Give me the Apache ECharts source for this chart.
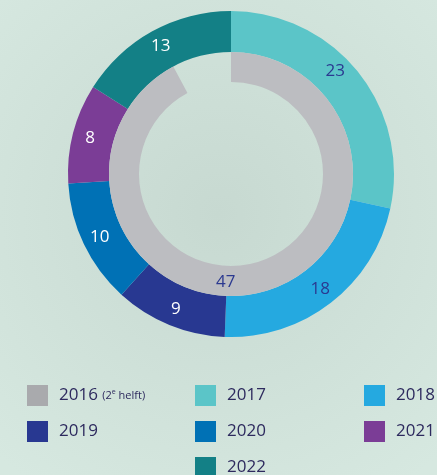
<!DOCTYPE html>
<html>
<head>
<meta charset="utf-8">
<script src="https://cdn.jsdelivr.net/npm/echarts@6/dist/echarts.min.js"></script>
<style>
  html, body { margin: 0; padding: 0; }
  #chart { width: 437px; height: 475px; }
</style>
</head>
<body>
<div id="chart"></div>
<script>
// outer ring: years and counts
var years = ['2017', '2018', '2019', '2020', '2021', '2022'];
var counts = [23, 18, 9, 10, 8, 13];
// inner ring: 2016 (2e helft) plus the empty gap at the top
var innerName = '2016';
var innerValue = 47;
var innerGap = 4;

var colors = {
  '2016': '#bcbdc1',
  '2017': '#5bc5c8',
  '2018': '#25a9e0',
  '2019': '#283891',
  '2020': '#0071b5',
  '2021': '#7b3d96',
  '2022': '#138086'
};
var darkLabel = '#2b3990';
var darkLabelYears = ['2017', '2018'];

var myChart = echarts.init(document.getElementById('chart'));

var outerData = years.map(function (y, i) {
  return {
    name: y,
    value: counts[i],
    itemStyle: { color: colors[y] },
    label: { color: darkLabelYears.indexOf(y) >= 0 ? darkLabel : '#ffffff' }
  };
});

var legendText = {
  color: '#2d2a5e',
  fontFamily: 'Open Sans',
  fontSize: 17,
  padding: [0, 0, 0, 6],
  rich: {
    small: { fontSize: 11, color: '#2d2a5e', fontFamily: 'Open Sans' },
    sup: { fontSize: 7, color: '#2d2a5e', fontFamily: 'Open Sans', padding: [0, 0, 7, 0] }
  }
};

function legendFmt(name) {
  if (name === innerName) {
    return name + ' {small|(2}{sup|e}{small| helft)}';
  }
  return name;
}

var legendBase = {
  orient: 'vertical',
  icon: 'rect',
  itemWidth: 21,
  itemHeight: 21,
  itemGap: 15,
  padding: 0,
  top: 385,
  selectedMode: false,
  formatter: legendFmt,
  textStyle: legendText
};

myChart.setOption({
  animation: false,
  backgroundColor: {
    type: 'radial', x: 0.5, y: 0.45, r: 0.75,
    colorStops: [
      { offset: 0, color: '#c7d9d1' },
      { offset: 1, color: '#d6e8e0' }
    ]
  },
  legend: [
    Object.assign({}, legendBase, {
      left: 27,
      data: [{ name: '2016', itemStyle: { color: '#a9aaad' } }, '2019']
    }),
    Object.assign({}, legendBase, { left: 195, data: ['2017', '2020'] }),
    Object.assign({}, legendBase, { left: 195, top: 457, data: ['2022'] }),
    Object.assign({}, legendBase, { left: 364, data: ['2018', '2021'] })
  ],
  series: [
    {
      type: 'pie',
      center: [231, 174],
      radius: [122, 163],
      startAngle: 90,
      clockwise: true,
      silent: true,
      avoidLabelOverlap: false,
      label: {
        show: true,
        position: 'inside',
        formatter: '{c}',
        fontFamily: 'Open Sans',
        fontSize: 17
      },
      labelLayout: function (params) {
        if (params.dataIndex === 0) return { dx: -9, dy: -11 };
        return {};
      },
      labelLine: { show: false },
      data: outerData
    },
    {
      type: 'pie',
      center: [231, 174],
      radius: [92, 122],
      startAngle: 90,
      clockwise: true,
      silent: true,
      avoidLabelOverlap: false,
      label: {
        show: true,
        position: 'inside',
        formatter: '{c}',
        color: darkLabel,
        fontFamily: 'Open Sans',
        fontSize: 17
      },
      labelLayout: function (params) {
        if (params.dataIndex === 0) return { dx: -32, dy: 1 };
        return {};
      },
      labelLine: { show: false },
      data: [
        { name: innerName, value: innerValue, itemStyle: { color: colors[innerName] } },
        { name: 'gap', value: innerGap, itemStyle: { color: 'transparent' }, label: { show: false } }
      ]
    }
  ]
});
window.onresize = myChart.resize;
</script>
</body>
</html>
